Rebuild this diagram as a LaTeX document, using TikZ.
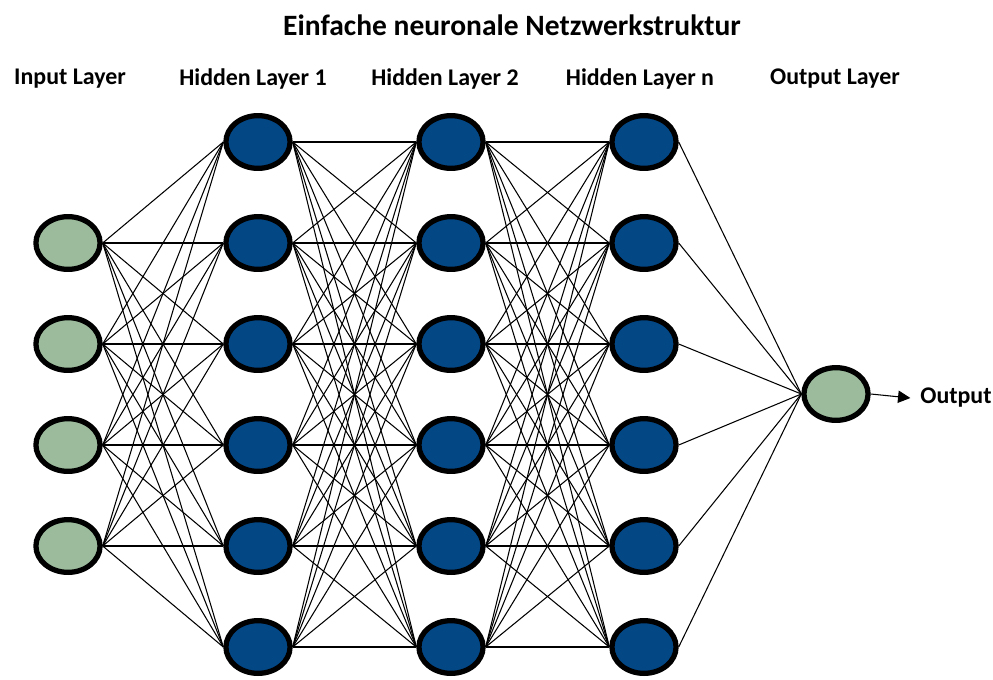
\documentclass[tikz,border=0pt]{standalone}
\usepackage{fontspec}
\setmainfont{Carlito}
\usepackage{xcolor}
\usetikzlibrary{arrows.meta, shapes}

\definecolor{inputgreen}{RGB}{155,187,156}
\definecolor{hiddenblue}{RGB}{3,71,133}

\begin{document}
\begin{tikzpicture}[x=0.02cm, y=-0.02cm]
            \useasboundingbox (0,0) rectangle (993,679);

            \begin{scope}[every node/.style={ellipse, line width=3pt, draw=black,
                                             minimum width=36.5pt, minimum height=30pt, inner sep=0pt}]
                \foreach \r/\y in {1/243, 2/344, 3/445, 4/546}
                    \node[fill=inputgreen] (i\r) at (68,\y) {};
                \foreach \r/\y in {1/142, 2/243, 3/344, 4/445, 5/546, 6/647} {
                    \node[fill=hiddenblue] (a\r) at (258,\y) {};
                    \node[fill=hiddenblue] (b\r) at (451,\y) {};
                    \node[fill=hiddenblue] (n\r) at (644,\y) {};
                }
                \node[fill=inputgreen] (o) at (836,394) {};
            \end{scope}

            \begin{scope}[every edge/.style={draw=black, line width=0.6pt}]
                \foreach \s in {1,...,4}
                    \foreach \t in {1,...,6}
                        \path (i\s.east) edge (a\t.west);
                \foreach \s in {1,...,6}
                    \foreach \t in {1,...,6} {
                        \path (a\s.east) edge (b\t.west);
                        \path (b\s.east) edge (n\t.west);
                    }
                \foreach \s in {1,...,6}
                    \path (n\s.east) edge (o.west);
            \end{scope}

            \begin{scope}[every node/.style={font=\bfseries\fontsize{13.6}{16}\selectfont}]
                \node (title) at (512,25) {\fontsize{16.8}{20}\selectfont Einfache neuronale Netzwerkstruktur};
                \node (linput) at (70,79) {Input Layer};
                \node (lhid1) at (253,79) {Hidden Layer 1};
                \node (lhid2) at (445,79) {Hidden Layer 2};
                \node (lhidn) at (640,79) {Hidden Layer n};
                \node (lout) at (835,79) {Output Layer};
                \node[anchor=west, inner sep=0pt] (out) at (920,398) {Output};
            \end{scope}

            \path[-{Triangle[length=7pt, width=7pt]}, line width=0.6pt] (o.east) edge ([xshift=-5.5pt]out.west);

            \end{tikzpicture}
\end{document}
